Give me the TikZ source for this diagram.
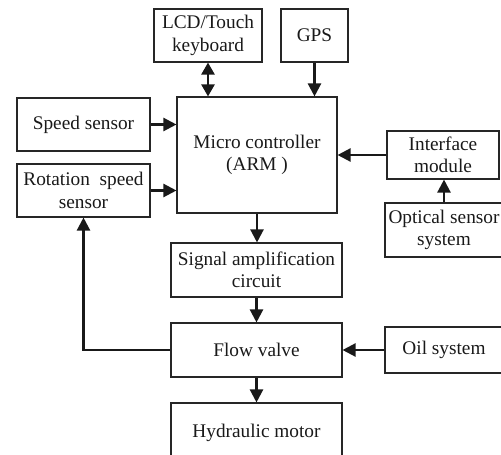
\documentclass[tikz,border=0pt]{standalone}
\usepackage{fontspec}
\setmainfont{Liberation Serif}
\usetikzlibrary{arrows.meta}
\begin{document}
\begin{tikzpicture}[x=1pt,y=-1pt,
  blk/.style={draw=black!85, line width=1.1pt, inner sep=0pt, align=center,
    font=\fontsize{19.3}{22.5}\selectfont, text=black!90},
  flow/.style={line width=2.3pt, black!90, -{Triangle[length=13pt,width=13pt]}},
  biflow/.style={line width=2.3pt, black!90, {Triangle[length=12pt,width=13pt]}-{Triangle[length=12pt,width=13pt]}}]
\useasboundingbox (0,0) rectangle (501,455);
\clip (0,0) rectangle (501,455);

% blocks
\node[blk, minimum width=108pt, minimum height=53pt] (lcd) at (208,35.5) {LCD/Touch\\keyboard};
\node[blk, minimum width=67pt, minimum height=53pt] (gps) at (314.5,35.5) {GPS};
\node[blk, minimum width=160pt, minimum height=116pt] (mc) at (257,155) {Micro controller\\(ARM )};
\node[blk, minimum width=133pt, minimum height=53pt] (spd) at (83.5,124.5) {Speed sensor};
\node[blk, minimum width=133pt, minimum height=53pt] (rot) at (83.5,190.5) {Rotation\ \ speed\\sensor};
\node[blk, minimum width=112pt, minimum height=48pt] (ifm) at (443,155) {Interface\\module};
\node[blk, minimum width=118pt, minimum height=54pt] (opt) at (444,230) {Optical sensor\\system};
\node[blk, minimum width=171pt, minimum height=54pt] (sig) at (256.5,270) {Signal amplification\\circuit};
\node[blk, minimum width=171pt, minimum height=54pt] (fv) at (256.5,350) {Flow valve};
\node[blk, minimum width=118pt, minimum height=46pt] (oil) at (444,350) {Oil system};
\node[blk, minimum width=171pt, minimum height=60pt] (hm) at (256.5,433) {Hydraulic motor};

% connectors
\draw[biflow] (lcd.south) -- (lcd.south |- mc.north);
\draw[flow] (gps.south) -- (gps.south |- mc.north);
\draw[flow] (spd.east) -- (spd.east -| mc.west);
\draw[flow] (rot.east) -- (rot.east -| mc.west);
\draw[flow] (ifm.west) -- (ifm.west -| mc.east);
\draw[flow] (opt.north) -- (opt.north |- ifm.south);
\draw[flow] (mc.south) -- (mc.south |- sig.north);
\draw[flow] (sig.south) -- (sig.south |- fv.north);
\draw[flow] (fv.south) -- (fv.south |- hm.north);
\draw[flow] (oil.west) -- (oil.west -| fv.east);
\draw[flow] (fv.west) -| (rot.south);
\end{tikzpicture}
\end{document}
